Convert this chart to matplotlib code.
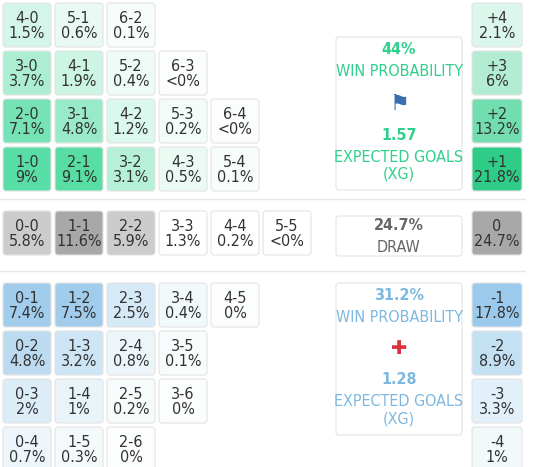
import matplotlib.pyplot as plt
from matplotlib.patches import FancyBboxPatch
import matplotlib.colors as mcolors
import numpy as np

# home win scores, rows from top (4-0 row) down to 1-0 row
win_rows = [
    [("4-0", 1.5), ("5-1", 0.6), ("6-2", 0.1)],
    [("3-0", 3.7), ("4-1", 1.9), ("5-2", 0.4), ("6-3", 0.0)],
    [("2-0", 7.1), ("3-1", 4.8), ("4-2", 1.2), ("5-3", 0.2), ("6-4", 0.0)],
    [("1-0", 9.0), ("2-1", 9.1), ("3-2", 3.1), ("4-3", 0.5), ("5-4", 0.1)],
]
draw_row = [("0-0", 5.8), ("1-1", 11.6), ("2-2", 5.9), ("3-3", 1.3), ("4-4", 0.2), ("5-5", 0.0)]
loss_rows = [
    [("0-1", 7.4), ("1-2", 7.5), ("2-3", 2.5), ("3-4", 0.4), ("4-5", 0.0)],
    [("0-2", 4.8), ("1-3", 3.2), ("2-4", 0.8), ("3-5", 0.1)],
    [("0-3", 2.0), ("1-4", 1.0), ("2-5", 0.2), ("3-6", 0.0)],
    [("0-4", 0.7), ("1-5", 0.3), ("2-6", 0.0)],
]
margin_win = [("+4", 2.1), ("+3", 6.0), ("+2", 13.2), ("+1", 21.8)]
margin_draw = ("0", 24.7)
margin_loss = [("-1", 17.8), ("-2", 8.9), ("-3", 3.3), ("-4", 1.0)]

home_win, home_xg = "44%", "1.57"
draw_prob = "24.7%"
away_win, away_xg = "31.2%", "1.28"

GREEN = "#52dca2"
BLUE = "#9cc9eb"
GREY = "#a8a8a8"


def shade(base, v, vmax):
    t = min(v / vmax, 1.0) ** 0.8
    w = np.array(mcolors.to_rgb("#fbfefd"))
    b = np.array(mcolors.to_rgb(base))
    return w + (b - w) * t


fig = plt.figure(figsize=(5.35, 4.67), dpi=100)
ax = fig.add_axes([0, 0, 1, 1])
ax.set_xlim(0, 535)
ax.set_ylim(467, 0)
ax.axis("off")

plt.rcParams["font.family"] = ["DejaVu Sans"]
TXT = dict(ha="center", va="center", fontsize=11.5, color="#333333", fontstretch="condensed",
           linespacing=1.0)


def cell(x, y, w, h, color, text):
    ax.add_patch(FancyBboxPatch((x + 2, y + 2), w - 4, h - 4, boxstyle="round,pad=0,rounding_size=3",
                                facecolor=color, edgecolor="#e3e3e3", lw=0.8))
    ax.text(x + w / 2, y + h / 2 + 1, text, **TXT)


def score_text(s, v):
    if v == 0:
        pct = "0%" if s in ("4-5", "3-6", "2-6") else "<0%"
    else:
        pct = f"{v:g}%"
    return f"{s}\n{pct}"


CW, RH = 52, 48
X0 = 1
row_y_win = [1, 49, 97, 145]
for ry, row in zip(row_y_win, win_rows):
    for i, (s, v) in enumerate(row):
        cell(X0 + i * CW, ry, CW, RH, shade(GREEN, v, 9.5), score_text(s, v))

for i, (s, v) in enumerate(draw_row):
    c = "white" if v < 2 else shade(GREY, v, 11.6)
    cell(X0 + i * CW, 209, CW, RH, c, score_text(s, v))

row_y_loss = [281, 329, 377, 425]
for ry, row in zip(row_y_loss, loss_rows):
    for i, (s, v) in enumerate(row):
        cell(X0 + i * CW, ry, CW, RH, shade(BLUE, v, 8), score_text(s, v))

# margin column
MX, MW = 470, 54
for ry, (s, v) in zip(row_y_win, margin_win):
    cell(MX, ry, MW, RH, shade("#2ecc87", v, 21.8), f"{s}\n{v:g}%")
cell(MX, 209, MW, RH, GREY, f"{margin_draw[0]}\n{margin_draw[1]:g}%")
for ry, (s, v) in zip(row_y_loss, margin_loss):
    cell(MX, ry, MW, RH, shade("#9ccaec", v, 17.8), f"{s}\n{v:g}%")

# separators
for y in (199, 271):
    ax.plot([0, 525], [y, y], color="#e6e6e6", lw=1)


# summary boxes
def panel(y, h):
    ax.add_patch(FancyBboxPatch((336, y), 126, h, boxstyle="round,pad=0,rounding_size=3",
                                facecolor="white", edgecolor="#e3e3e3", lw=0.8))


panel(37, 153)
g = "#2fd08c"
big = dict(ha="center", va="center", fontstretch="condensed", fontsize=11.5)
ax.text(399, 50, home_win, color=g, fontweight="bold", **big)
ax.text(399, 72, "WIN PROBABILITY", color=g, **big)
ax.text(399, 104, "\u2691", color="#3a6fb0", ha="center", va="center", fontsize=16)
ax.text(399, 135, home_xg, color=g, fontweight="bold", **big)
ax.text(399, 157, "EXPECTED GOALS", color=g, **big)
ax.text(399, 174, "(XG)", color=g, **big)

panel(216, 40)
ax.text(399, 226, draw_prob, color="#666666", fontweight="bold", **big)
ax.text(399, 248, "DRAW", color="#666666", **big)

panel(283, 152)
b = "#7db8e0"
ax.text(399, 296, away_win, color=b, fontweight="bold", **big)
ax.text(399, 317, "WIN PROBABILITY", color=b, **big)
ax.text(399, 349, "\u271A", color="#d9333f", ha="center", va="center", fontsize=14)
ax.text(399, 380, away_xg, color=b, fontweight="bold", **big)
ax.text(399, 402, "EXPECTED GOALS", color=b, **big)
ax.text(399, 419, "(XG)", color=b, **big)

fig.savefig("out.png", dpi=100)
